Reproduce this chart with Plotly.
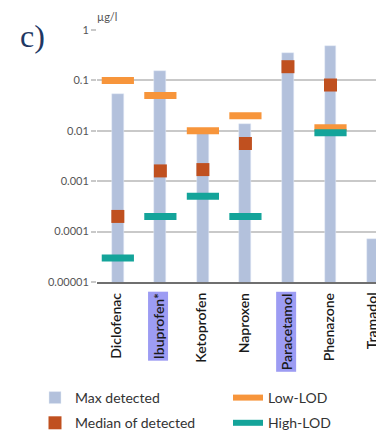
import plotly.graph_objects as go

# Pharmaceutical concentrations in water samples (µg/l)
drugs = ["Diclofenac", "Ibuprofen*", "Ketoprofen", "Naproxen",
         "Paracetamol", "Phenazone", "Tramadol"]
highlighted = ["Ibuprofen*", "Paracetamol"]
max_detected = [0.054, 0.155, 0.0100, 0.0136, 0.355, 0.49, 0.00007]
median_detected = [0.0002, 0.0016, 0.0017, 0.0056, 0.187, 0.081, None]
low_lod = [0.1, 0.05, 0.01, 0.02, None, 0.0115, None]
high_lod = [0.00003, 0.0002, 0.0005, 0.0002, None, 0.0091, None]
ytick_vals = [0.00001, 0.0001, 0.001, 0.01, 0.1, 1]
ytick_text = ["0.00001", "0.0001", "0.001", "0.01", "0.1", "1"]

C_MAX = "#b3c1dc"
C_MED = "#c0501f"
C_LOW = "#f7953b"
C_HIGH = "#14a49a"
FONT = "Lato"

W, H = 376, 445
ML, MR, MT, MB = 97, 0, 30, 163
PW, PH = W - ML - MR, H - MT - MB


def px_x(px):
    return (px - ML) / PW


def px_y(py):
    return (H - MB - py) / PH


fig = go.Figure()

fig.add_trace(go.Bar(
    x=drugs, y=max_detected, width=0.28, marker_color=C_MAX,
    name="Max detected", legend="legend", legendgroup="max"))
fig.add_trace(go.Scatter(
    x=drugs, y=median_detected, mode="markers", name="Median of detected",
    marker=dict(symbol="square", size=13, color=C_MED, line_width=0),
    legend="legend", legendgroup="median"))
fig.add_trace(go.Scatter(
    x=drugs, y=low_lod, mode="markers", showlegend=False,
    marker=dict(symbol="line-ew", size=23, line=dict(width=7, color=C_LOW))))
fig.add_trace(go.Scatter(
    x=drugs, y=high_lod, mode="markers", showlegend=False,
    marker=dict(symbol="line-ew", size=23, line=dict(width=7, color=C_HIGH))))

# legend entries for the LOD levels, shown as line swatches
fig.add_trace(go.Scatter(x=[drugs[0]], y=[None], mode="lines", name="Low-LOD",
                         line=dict(color=C_LOW, width=6), legend="legend2",
                         legendgroup="low"))
fig.add_trace(go.Scatter(x=[drugs[0]], y=[None], mode="lines", name="High-LOD",
                         line=dict(color=C_HIGH, width=6), legend="legend2",
                         legendgroup="high"))

# rotated category labels, some with a highlight background
for i, d in enumerate(drugs):
    fig.add_annotation(
        x=i, xref="x", y=-0.035, yref="paper", text=d, showarrow=False,
        textangle=-90, xanchor="center", yanchor="top", xshift=-2,
        font=dict(family=FONT, size=14, color="#1a1a1a", weight=600),
        bgcolor="#9d9cf3" if d in highlighted else "rgba(0,0,0,0)",
        borderpad=1)

fig.add_annotation(x=px_x(95), xref="paper", y=px_y(17), yref="paper",
                   text="µg/l", showarrow=False, xanchor="left", yanchor="middle",
                   font=dict(family=FONT, size=11, color="#555555"))
fig.add_annotation(x=px_x(18), xref="paper", y=px_y(36), yref="paper",
                   text="c)", showarrow=False, xanchor="left", yanchor="middle",
                   font=dict(family="Liberation Serif", size=32, color="#1f3864"))

legend_style = dict(orientation="v", xref="container", yref="container",
                    yanchor="top", xanchor="left", bgcolor="rgba(0,0,0,0)",
                    font=dict(family=FONT, size=14, color="#333333"),
                    itemwidth=30, tracegroupgap=4)
fig.update_layout(
    width=W, height=H,
    margin=dict(l=ML, r=MR, t=MT, b=MB, autoexpand=False),
    paper_bgcolor="white", plot_bgcolor="white",
    showlegend=True,
    legend=dict(x=35 / W, y=1 - 382 / H, **legend_style),
    legend2=dict(x=228 / W, y=1 - 382 / H, **legend_style),
    bargap=0,
    xaxis=dict(type="category", categoryorder="array", categoryarray=drugs,
               range=[-0.49, 6.07], showticklabels=False,
               showgrid=False, showline=True, linecolor="#6f6f6f", linewidth=2,
               ticks=""),
    yaxis=dict(type="log", range=[-5, 0], tickvals=ytick_vals,
               ticktext=ytick_text, showgrid=True, gridcolor="#c9c9c9",
               gridwidth=1.5, ticks="outside", ticklen=5, tickcolor="#c9c9c9",
               tickwidth=1.5, showline=False, zeroline=False,
               tickfont=dict(family=FONT, size=11, color="#555555")),
)

fig.write_html("out.html")
